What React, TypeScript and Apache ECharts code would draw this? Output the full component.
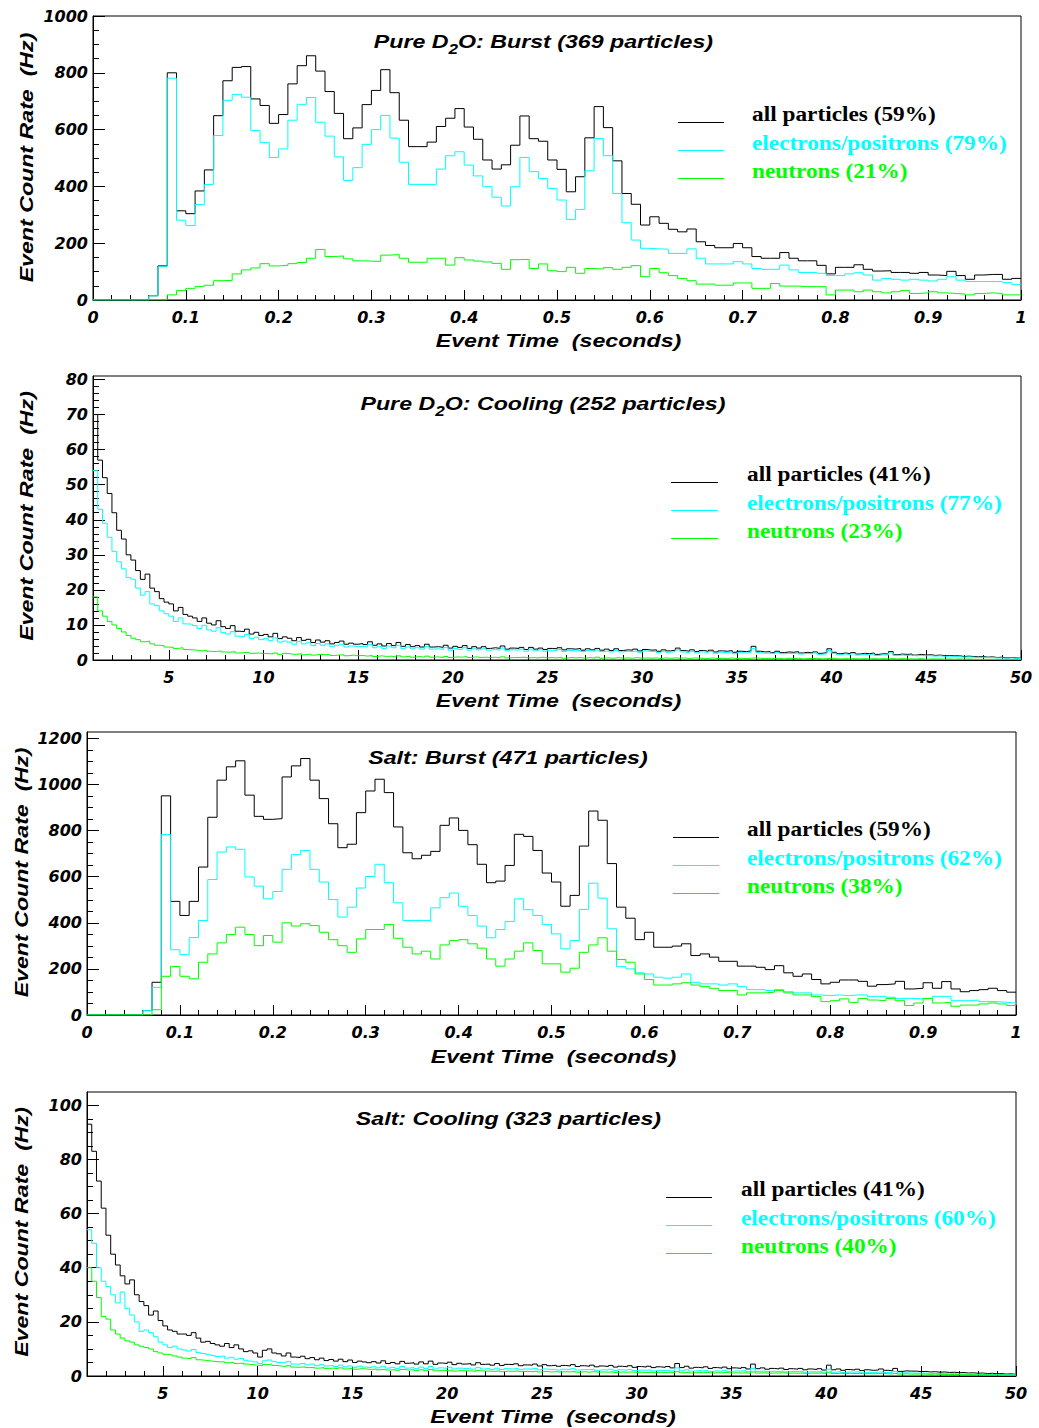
import React, { useEffect, useRef } from "react";
import * as echarts from "echarts";

// ---- binning -------------------------------------------------------------
const BURST_T0 = 0;
const BURST_DT = 0.01; // 10 ms bins
const COOL_T0 = 1;
const COOL_DT = 0.25; // 250 ms bins

// ---- Pure D2O, burst phase (Hz) -----------------------------------------
const d2oBurstAll = [
  0, 0, 0, 0, 0, 0, 15, 120, 800, 314,
  304, 384, 458, 649, 772, 819, 822, 708, 685, 622,
  653, 761, 825, 860, 806, 734, 657, 568, 606, 688,
  738, 811, 730, 633, 540, 540, 556, 611, 640, 674,
  609, 566, 493, 461, 476, 545, 648, 568, 559, 493,
  460, 381, 434, 571, 681, 607, 490, 375, 337, 264,
  293, 270, 249, 240, 250, 205, 192, 184, 184, 199,
  184, 153, 147, 147, 167, 147, 138, 138, 122, 92,
  115, 115, 124, 108, 102, 103, 97, 97, 94, 97,
  88, 86, 101, 86, 73, 88, 90, 90, 73, 76,
];
const d2oBurstEp = [
  0, 0, 0, 0, 0, 0, 15, 117, 781, 281,
  262, 336, 407, 579, 703, 724, 714, 597, 555, 502,
  532, 633, 689, 713, 626, 577, 504, 421, 466, 548,
  600, 650, 570, 485, 407, 407, 407, 461, 508, 522,
  475, 437, 399, 362, 331, 399, 502, 452, 428, 393,
  352, 284, 319, 455, 569, 508, 375, 272, 211, 182,
  180, 179, 164, 164, 180, 147, 127, 127, 127, 135,
  127, 111, 108, 108, 123, 106, 97, 97, 94, 86,
  86, 92, 96, 88, 70, 76, 73, 70, 73, 70,
  67, 73, 82, 70, 65, 65, 65, 65, 61, 55,
];
const d2oBurstN = [
  0, 0, 0, 0, 0, 0, 0, 0, 18, 33,
  41, 48, 52, 68, 69, 92, 106, 113, 128, 120,
  122, 128, 132, 147, 178, 153, 155, 145, 138, 137,
  136, 158, 160, 147, 133, 133, 147, 147, 123, 149,
  141, 137, 134, 129, 108, 142, 143, 111, 127, 103,
  100, 115, 94, 111, 109, 114, 108, 115, 121, 82,
  111, 96, 86, 76, 68, 56, 56, 52, 52, 60,
  60, 41, 41, 58, 49, 49, 47, 47, 47, 18,
  35, 35, 29, 35, 29, 25, 29, 33, 23, 25,
  29, 25, 23, 21, 18, 23, 25, 23, 18, 18,
];

// ---- Pure D2O, cooling phase (Hz), rows of 5 s --------------------------
const d2oCoolAll = [
  70, 57, 52, 47.5, 42, 37, 34.5, 30, 28.5, 25.5, 23, 24.5, 20.5, 19.5, 17.5, 16.5, 16, 14, 15, 13,
  12.5, 12, 11, 12, 10.5, 10, 11.2, 9.5, 9, 9.8, 8.2, 8.1, 8.8, 7.4, 7.9, 7, 7.3, 6.6, 7.6, 6.1,
  6.6, 6.2, 5.5, 6.4, 5.6, 5.9, 5.0, 5.7, 5.1, 5.5, 4.6, 5.0, 5.4, 4.5, 4.8, 4.5, 4.7, 4.4, 5.2, 4.2,
  4.6, 4.0, 4.7, 4.1, 5.0, 3.9, 4.4, 3.8, 4.1, 3.7, 4.5, 3.7, 3.8, 3.6, 4.2, 3.4, 3.9, 3.6, 4.1, 3.3,
  3.8, 3.4, 3.8, 3.3, 3.5, 3.3, 4.0, 3.1, 3.4, 3.3, 3.6, 3.0, 3.6, 3.1, 3.4, 3.0, 3.3, 3.2, 3.5, 2.9,
  3.2, 3.1, 3.3, 2.8, 3.2, 2.9, 3.3, 2.8, 3.1, 2.7, 3.2, 2.7, 2.9, 2.8, 3.1, 2.6, 3.0, 2.8, 2.9, 2.5,
  2.9, 2.6, 2.8, 3.4, 2.7, 2.5, 2.9, 2.4, 2.7, 2.5, 2.8, 2.3, 2.6, 2.5, 2.7, 2.2, 2.5, 2.4, 2.6, 3.9,
  2.5, 2.3, 2.4, 2.1, 2.5, 2.1, 2.3, 2.2, 2.4, 2.0, 2.2, 2.0, 2.3, 1.9, 2.1, 3.2, 2.2, 1.8, 2.0, 1.8,
  2.1, 1.7, 1.9, 1.8, 2.0, 1.6, 1.8, 1.7, 2.4, 1.5, 1.7, 1.6, 1.7, 1.4, 1.6, 1.4, 1.5, 1.3, 1.4, 1.2,
  1.3, 1.2, 1.2, 1.0, 1.1, 1.0, 0.9, 1.0, 0.8, 0.9, 0.7, 0.8, 0.6, 0.7, 0.6, 0.5,
];
const d2oCoolEp = [
  54, 43, 39, 35, 31, 28, 26, 23.5, 23, 20.5, 18.5, 19.5, 16, 15.5, 14, 13.2, 12.5, 11, 12, 10.3,
  10.2, 9.8, 9, 9.9, 8.6, 8.2, 9.2, 7.8, 7.4, 8.1, 6.8, 6.6, 7.3, 6.1, 6.5, 5.8, 6.1, 5.5, 6.3, 5.1,
  5.4, 5.1, 4.5, 5.3, 4.6, 4.9, 4.1, 4.7, 4.2, 4.6, 3.8, 4.2, 4.5, 3.7, 4.0, 3.8, 3.9, 3.7, 4.4, 3.5,
  3.9, 3.3, 4.0, 3.5, 4.2, 3.3, 3.7, 3.2, 3.5, 3.1, 3.8, 3.1, 3.2, 3.0, 3.6, 2.8, 3.3, 3.0, 3.5, 2.8,
  3.2, 2.9, 3.2, 2.8, 3.0, 2.8, 3.4, 2.6, 2.9, 2.8, 3.1, 2.5, 3.1, 2.6, 2.9, 2.5, 2.8, 2.7, 3.0, 2.4,
  2.7, 2.6, 2.8, 2.4, 2.7, 2.5, 2.8, 2.4, 2.6, 2.3, 2.7, 2.3, 2.5, 2.4, 2.6, 2.2, 2.6, 2.4, 2.5, 2.1,
  2.5, 2.2, 2.4, 2.9, 2.3, 2.1, 2.5, 2.0, 2.3, 2.1, 2.4, 1.9, 2.2, 2.1, 2.3, 1.8, 2.1, 2.0, 2.2, 3.3,
  2.1, 1.9, 2.0, 1.8, 2.1, 1.8, 1.9, 1.8, 2.0, 1.7, 1.9, 1.7, 2.0, 1.6, 1.8, 2.7, 1.9, 1.5, 1.7, 1.5,
  1.8, 1.4, 1.6, 1.5, 1.7, 1.3, 1.5, 1.4, 2.0, 1.3, 1.4, 1.3, 1.4, 1.2, 1.3, 1.2, 1.2, 1.1, 1.2, 1.0,
  1.1, 1.0, 1.0, 0.8, 0.9, 0.8, 0.7, 0.8, 0.7, 0.7, 0.6, 0.6, 0.5, 0.6, 0.5, 0.4,
];
const d2oCoolN = [
  18, 14, 12.5, 11, 10, 9, 8, 7, 6.2, 5.8, 5.2, 5.4, 4.6, 4.2, 4.1, 3.7, 3.6, 3.3, 3.5, 3.0,
  2.9, 2.8, 2.6, 2.8, 2.5, 2.4, 2.6, 2.3, 2.2, 2.4, 2.0, 2.1, 2.2, 1.9, 2.0, 1.8, 1.9, 1.7, 2.0, 1.6,
  1.9, 1.7, 1.6, 1.8, 1.5, 1.7, 1.4, 1.6, 1.5, 1.6, 1.3, 1.4, 1.5, 1.2, 1.4, 1.2, 1.3, 1.1, 1.3, 1.0,
  1.2, 1.0, 1.1, 0.9, 1.2, 0.9, 1.1, 0.8, 1.0, 0.8, 1.1, 0.8, 0.9, 0.7, 1.0, 0.7, 0.9, 0.8, 1.0, 0.7,
  0.9, 0.7, 0.8, 0.7, 0.8, 0.6, 0.9, 0.6, 0.7, 0.7, 0.8, 0.6, 0.7, 0.6, 0.8, 0.6, 0.7, 0.6, 0.8, 0.5,
  0.7, 0.6, 0.7, 0.5, 0.7, 0.5, 0.8, 0.5, 0.6, 0.5, 0.7, 0.5, 0.6, 0.5, 0.7, 0.5, 0.6, 0.5, 0.6, 0.4,
  0.6, 0.5, 0.6, 0.5, 0.6, 0.4, 0.6, 0.5, 0.5, 0.4, 0.6, 0.4, 0.5, 0.4, 0.6, 0.4, 0.5, 0.4, 0.5, 0.6,
  0.5, 0.4, 0.5, 0.4, 0.5, 0.3, 0.5, 0.4, 0.5, 0.3, 0.4, 0.4, 0.5, 0.3, 0.4, 0.5, 0.4, 0.3, 0.4, 0.3,
  0.4, 0.3, 0.4, 0.3, 0.4, 0.3, 0.4, 0.3, 0.4, 0.3, 0.4, 0.3, 0.3, 0.3, 0.4, 0.2, 0.3, 0.3, 0.3, 0.2,
  0.3, 0.2, 0.3, 0.2, 0.3, 0.2, 0.2, 0.2, 0.2, 0.2, 0.2, 0.1, 0.2, 0.1, 0.2, 0.1,
];

// ---- Salt, burst phase (Hz) ---------------------------------------------
const saltBurstAll = [
  0, 0, 0, 0, 0, 0, 19, 142, 951, 493,
  432, 493, 642, 858, 1019, 1077, 1103, 954, 862, 849,
  852, 1033, 1081, 1113, 1019, 939, 830, 726, 741, 878,
  972, 1023, 965, 816, 704, 678, 693, 710, 823, 855,
  801, 739, 654, 574, 581, 649, 784, 775, 714, 616,
  577, 472, 519, 733, 885, 845, 657, 468, 420, 327,
  359, 294, 294, 299, 309, 258, 265, 251, 233, 233,
  212, 212, 207, 197, 214, 183, 168, 178, 154, 135,
  142, 152, 152, 146, 125, 132, 135, 146, 113, 116,
  140, 116, 145, 113, 101, 106, 110, 116, 106, 99,
];
const saltBurstEp = [
  0, 0, 0, 0, 0, 0, 19, 120, 783, 283,
  262, 336, 410, 588, 707, 729, 719, 599, 559, 504,
  536, 632, 696, 714, 632, 577, 501, 425, 468, 551,
  601, 654, 574, 487, 410, 410, 410, 465, 509, 529,
  472, 432, 386, 335, 371, 406, 504, 457, 432, 393,
  352, 287, 323, 458, 572, 507, 374, 210, 200, 183,
  178, 164, 160, 164, 178, 142, 135, 135, 130, 135,
  123, 110, 110, 106, 110, 101, 96, 96, 87, 84,
  87, 84, 87, 87, 81, 81, 77, 72, 72, 70,
  72, 81, 81, 62, 62, 65, 58, 58, 55, 52,
];
const saltBurstN = [
  0, 0, 0, 0, 0, 0, 0, 23, 168, 210,
  168, 157, 229, 265, 313, 349, 381, 349, 301, 345,
  316, 400, 386, 396, 388, 359, 327, 301, 272, 330,
  371, 371, 393, 333, 294, 265, 277, 243, 304, 323,
  327, 309, 290, 243, 212, 243, 277, 313, 280, 222,
  222, 186, 203, 272, 304, 335, 277, 241, 229, 178,
  154, 130, 130, 135, 140, 130, 123, 116, 106, 106,
  87, 96, 96, 99, 106, 96, 87, 87, 80, 58,
  62, 70, 55, 72, 65, 62, 72, 62, 41, 52,
  72, 52, 55, 38, 43, 43, 48, 52, 48, 41,
];

// ---- Salt, cooling phase (Hz), rows of 5 s ------------------------------
const saltCoolAll = [
  93, 83, 72, 62, 52, 45, 41, 37, 34, 35.5, 30, 27.5, 26, 22.5, 24, 20.5, 18.5, 17, 16.5, 15.5,
  15.5, 15, 16, 14, 12.5, 12.8, 12, 11.5, 11, 12, 10.5, 11.5, 10, 9, 9.3, 8.5, 7, 9.5, 10, 8.5,
  8.2, 7.4, 8.5, 7, 6.8, 7.3, 6.4, 6.8, 6, 6.6, 5.7, 6.1, 5.5, 6.2, 5.3, 5.9, 5, 5.5, 5.2, 4.9,
  5.3, 4.8, 5.6, 4.6, 5.0, 4.5, 5.4, 4.7, 4.9, 4.4, 5.2, 4.5, 5.5, 4.3, 4.8, 4.6, 5.1, 4.2, 4.7, 4.4,
  4.6, 4.1, 4.9, 4.3, 4.4, 4.0, 4.6, 3.9, 4.3, 4.2, 4.5, 3.8, 4.1, 4.0, 4.4, 3.7, 4.2, 3.8, 4.0, 3.6,
  3.9, 3.7, 4.2, 3.5, 3.8, 3.6, 4.0, 3.4, 3.7, 3.5, 3.9, 3.3, 3.6, 3.4, 3.8, 3.2, 3.5, 3.3, 3.6, 3.1,
  3.4, 3.2, 3.5, 3.0, 4.6, 3.1, 3.6, 2.9, 3.2, 3.0, 3.4, 2.8, 3.1, 2.9, 3.3, 2.7, 3.0, 2.8, 3.1, 2.6,
  4.4, 2.7, 3.0, 2.5, 2.8, 2.6, 2.9, 2.4, 2.7, 2.5, 2.8, 2.3, 2.6, 2.4, 2.7, 2.2, 4.0, 2.3, 2.6, 2.1,
  2.4, 2.2, 2.5, 2.0, 2.3, 2.1, 2.2, 2.6, 2.1, 1.9, 2.8, 1.7, 1.9, 1.8, 1.8, 1.6, 1.7, 1.5, 1.6, 1.4,
  1.5, 1.3, 1.4, 1.2, 1.3, 1.1, 1.2, 1.0, 1.1, 0.9, 1.0, 0.8, 0.9, 0.7, 0.8, 0.6,
];
const saltCoolEp = [
  54, 49, 40, 35, 33, 30, 27, 31, 25, 22.5, 20, 16.5, 17, 16, 14.5, 12.5, 11.5, 10.5, 11, 10,
  9.6, 9.2, 9.8, 8.7, 8.3, 8, 7.6, 7.2, 7.4, 6.6, 6.9, 6.2, 6.5, 5.8, 5.5, 5.2, 4.6, 5.6, 5.9, 5.3,
  5.0, 4.8, 5.3, 4.4, 4.3, 4.6, 4.1, 4.4, 3.8, 4.2, 3.7, 3.9, 3.5, 4.0, 3.4, 3.7, 3.2, 3.6, 3.3, 3.1,
  3.4, 3.0, 3.6, 2.9, 3.2, 2.8, 3.5, 2.9, 3.1, 2.7, 3.3, 2.8, 3.5, 2.6, 3.0, 2.8, 3.2, 2.6, 2.9, 2.7,
  2.9, 2.5, 3.1, 2.6, 2.8, 2.4, 2.9, 2.4, 2.7, 2.6, 2.8, 2.3, 2.6, 2.5, 2.8, 2.3, 2.6, 2.4, 2.5, 2.2,
  2.5, 2.3, 2.7, 2.2, 2.4, 2.3, 2.5, 2.1, 2.3, 2.2, 2.5, 2.0, 2.3, 2.1, 2.4, 2.0, 2.2, 2.1, 2.3, 1.9,
  2.1, 2.0, 2.2, 1.9, 3.0, 1.9, 2.3, 1.8, 2.0, 1.9, 2.1, 1.7, 1.9, 1.8, 2.1, 1.7, 1.9, 1.8, 2.0, 1.6,
  2.8, 1.7, 1.9, 1.6, 1.8, 1.6, 1.8, 1.5, 1.7, 1.6, 1.8, 1.4, 1.6, 1.5, 1.7, 1.4, 2.5, 1.4, 1.6, 1.3,
  1.5, 1.4, 1.6, 1.2, 1.4, 1.3, 1.4, 1.6, 1.3, 1.2, 1.7, 1.1, 1.2, 1.1, 1.1, 1.0, 1.1, 0.9, 1.0, 0.9,
  0.9, 0.8, 0.9, 0.7, 0.8, 0.7, 0.7, 0.6, 0.7, 0.6, 0.6, 0.5, 0.5, 0.4, 0.5, 0.4,
];
const saltCoolN = [
  40, 35, 29, 22, 21, 17, 15.5, 14, 13, 12.5, 11.5, 11, 10.5, 10, 9, 8.5, 8, 7.8, 7.4, 7,
  6.6, 6.4, 6.8, 6.0, 5.8, 5.6, 5.4, 5.2, 5.3, 4.9, 5.0, 4.6, 4.8, 4.4, 4.2, 4.0, 3.8, 4.2, 4.4, 3.9,
  3.7, 3.5, 3.8, 3.3, 3.2, 3.4, 3.1, 3.2, 2.9, 3.1, 2.8, 2.9, 2.7, 3.0, 2.6, 2.8, 2.5, 2.7, 2.6, 2.4,
  2.6, 2.3, 2.5, 2.2, 2.4, 2.1, 2.4, 2.2, 2.3, 2.0, 2.3, 2.0, 2.4, 1.9, 2.1, 2.0, 2.2, 1.8, 2.0, 1.9,
  1.9, 1.7, 2.0, 1.8, 1.8, 1.7, 1.9, 1.6, 1.8, 1.7, 1.9, 1.6, 1.7, 1.6, 1.8, 1.5, 1.7, 1.5, 1.6, 1.5,
  1.6, 1.5, 1.7, 1.4, 1.6, 1.4, 1.6, 1.4, 1.5, 1.4, 1.6, 1.3, 1.5, 1.4, 1.5, 1.3, 1.4, 1.3, 1.4, 1.2,
  1.4, 1.3, 1.4, 1.2, 1.6, 1.2, 1.4, 1.1, 1.3, 1.2, 1.3, 1.1, 1.2, 1.2, 1.3, 1.1, 1.2, 1.1, 1.2, 1.0,
  1.5, 1.1, 1.2, 1.0, 1.1, 1.1, 1.2, 1.0, 1.1, 1.0, 1.1, 0.9, 1.1, 1.0, 1.1, 0.9, 1.4, 0.9, 1.0, 0.9,
  1.0, 0.9, 1.0, 0.8, 0.9, 0.8, 0.9, 1.0, 0.8, 0.8, 1.0, 0.7, 0.8, 0.7, 0.7, 0.7, 0.7, 0.6, 0.7, 0.6,
  0.6, 0.5, 0.6, 0.5, 0.5, 0.5, 0.5, 0.4, 0.5, 0.4, 0.4, 0.4, 0.4, 0.3, 0.3, 0.3,
];

// ---- axis tick labels ----------------------------------------------------
const burstXTicks = [0, 0.1, 0.2, 0.3, 0.4, 0.5, 0.6, 0.7, 0.8, 0.9, 1];
const coolXTicks = [5, 10, 15, 20, 25, 30, 35, 40, 45, 50];
const d2oBurstYTicks = [0, 200, 400, 600, 800, 1000];
const d2oCoolYTicks = [0, 10, 20, 30, 40, 50, 60, 70, 80];
const saltBurstYTicks = [0, 200, 400, 600, 800, 1000, 1200];
const saltCoolYTicks = [0, 20, 40, 60, 80, 100];

// ---- legend text ---------------------------------------------------------
const legendLabels = ["all particles", "electrons/positrons", "neutrons"];
const d2oBurstShares = ["59%", "79%", "21%"];
const d2oCoolShares = ["41%", "77%", "23%"];
const saltBurstShares = ["59%", "62%", "38%"];
const saltCoolShares = ["41%", "60%", "40%"];

const COLORS = ["#000000", "#00ffff", "#00ff00"];
const SANS = "'Liberation Sans', Arial, Helvetica, sans-serif";
const SERIF = "'Liberation Serif', 'Times New Roman', serif";
const TICK_FONT = "'DejaVu Sans', sans-serif";

const X_NAME = "Event Time  (seconds)";
const Y_NAME = "Event Count Rate  (Hz)";

type Panel = {
  title: [string, boolean][];
  grid: { left: number; top: number; width: number; height: number };
  xMin: number; xMax: number; xTicks: number[]; xMinorStep: number;
  yMax: number; yTicks: number[]; yMinorStep: number;
  series: number[][]; t0: number; dt: number; shares: string[];
  titlePos: [number, number];
  legend: { x1: number; x2: number; tx: number; y: number };
  yNamePos: [number, number];
  xNamePos: [number, number];
};

const panels: Panel[] = [
  {
    title: [["Pure D", false], ["2", true], ["O: Burst (369 particles)", false]],
    grid: { left: 93, top: 16, width: 928, height: 284 },
    xMin: 0, xMax: 1, xTicks: burstXTicks, xMinorStep: 0.02,
    yMax: 1000, yTicks: d2oBurstYTicks, yMinorStep: 50,
    series: [d2oBurstAll, d2oBurstEp, d2oBurstN], t0: BURST_T0, dt: BURST_DT,
    shares: d2oBurstShares,
    titlePos: [543.5, 41.5],
    legend: { x1: 678, x2: 724, tx: 752, y: 121.5 },
    yNamePos: [26.5, 157.5],
    xNamePos: [558.5, 340],
  },
  {
    title: [["Pure D", false], ["2", true], ["O: Cooling (252 particles)", false]],
    grid: { left: 93, top: 376, width: 928, height: 284 },
    xMin: 1, xMax: 50, xTicks: coolXTicks, xMinorStep: 1,
    yMax: 81, yTicks: d2oCoolYTicks, yMinorStep: 2,
    series: [d2oCoolAll, d2oCoolEp, d2oCoolN], t0: COOL_T0, dt: COOL_DT,
    shares: d2oCoolShares,
    titlePos: [543, 403],
    legend: { x1: 671, x2: 718, tx: 747, y: 481.5 },
    yNamePos: [26.5, 516],
    xNamePos: [558.5, 700],
  },
  {
    title: [["Salt: Burst (471 particles)", false]],
    grid: { left: 87, top: 732, width: 929, height: 283 },
    xMin: 0, xMax: 1, xTicks: burstXTicks, xMinorStep: 0.02,
    yMax: 1228, yTicks: saltBurstYTicks, yMinorStep: 50,
    series: [saltBurstAll, saltBurstEp, saltBurstN], t0: BURST_T0, dt: BURST_DT,
    shares: saltBurstShares,
    titlePos: [508, 757],
    legend: { x1: 673, x2: 719, tx: 747, y: 836.5 },
    yNamePos: [21.5, 872.5],
    xNamePos: [553.5, 1056],
  },
  {
    title: [["Salt: Cooling (323 particles)", false]],
    grid: { left: 87, top: 1092, width: 929, height: 284 },
    xMin: 1, xMax: 50, xTicks: coolXTicks, xMinorStep: 1,
    yMax: 104.9, yTicks: saltCoolYTicks, yMinorStep: 5,
    series: [saltCoolAll, saltCoolEp, saltCoolN], t0: COOL_T0, dt: COOL_DT,
    shares: saltCoolShares,
    titlePos: [508.5, 1118],
    legend: { x1: 666, x2: 712, tx: 741, y: 1196.5 },
    yNamePos: [21.5, 1232],
    xNamePos: [553, 1416],
  },
];

// Histogram outline: one point per left bin edge plus the closing right edge.
function stepPoints(values: number[], t0: number, dt: number) {
  const pts: [number, number][] = values.map((v, i) => [+(t0 + i * dt).toFixed(6), v]);
  pts.push([+(t0 + values.length * dt).toFixed(6), values[values.length - 1]]);
  return pts;
}

function gridSteps(min: number, max: number, step: number) {
  const out: number[] = [];
  const n = Math.floor((max - min) / step + 1e-9);
  for (let i = 0; i <= n; i++) out.push(+(min + i * step).toFixed(6));
  return out;
}

let measureCtx: CanvasRenderingContext2D | null = null;
function measure(text: string, size: number) {
  if (!measureCtx) measureCtx = document.createElement("canvas").getContext("2d");
  if (!measureCtx) return text.length * size * 0.6;
  measureCtx.font = `italic bold ${size}px ${SANS}`;
  return measureCtx.measureText(text).width;
}

const TITLE_SIZE = 19;
const SUB_SIZE = 14;
const SANS_STRETCH = 1.22;

function titleGroup(parts: [string, boolean][], cx: number, cy: number) {
  const widths = parts.map(([t, sub]) => measure(t, sub ? SUB_SIZE : TITLE_SIZE));
  const total = widths.reduce((a, b) => a + b, 0);
  let x = -total / 2;
  const children = parts.map(([t, sub], i) => {
    const el = {
      type: "text",
      x,
      y: sub ? 8 : 0,
      style: {
        text: t,
        fill: "#000",
        fontFamily: SANS,
        fontSize: sub ? SUB_SIZE : TITLE_SIZE,
        fontWeight: "bold",
        fontStyle: "italic",
        textAlign: "left",
        textVerticalAlign: "middle",
      },
    };
    x += widths[i];
    return el;
  });
  return { type: "group", x: cx, y: cy, scaleX: SANS_STRETCH, children };
}

function sansText(text: string, x: number, y: number, rotation = 0) {
  return {
    type: "text",
    x,
    y,
    rotation,
    scaleX: SANS_STRETCH,
    style: {
      text,
      fill: "#000",
      fontFamily: SANS,
      fontSize: TITLE_SIZE,
      fontWeight: "bold",
      fontStyle: "italic",
      textAlign: "center",
      textVerticalAlign: "middle",
    },
  };
}

function legendGraphics(p: Panel) {
  const out: any[] = [];
  legendLabels.forEach((lab, k) => {
    const y = p.legend.y + k * 28.3;
    const ly = Math.round(y) + 0.5;
    out.push({
      type: "line",
      shape: { x1: p.legend.x1, y1: ly, x2: p.legend.x2, y2: ly },
      style: { stroke: COLORS[k], lineWidth: 1 },
    });
    out.push({
      type: "text",
      x: p.legend.tx,
      y: y - 7.5,
      scaleX: 1.06,
      style: {
        text: `${lab} (${p.shares[k]})`,
        fill: COLORS[k],
        fontFamily: SERIF,
        fontSize: 22,
        fontWeight: "bold",
        textAlign: "left",
        textVerticalAlign: "middle",
      },
    });
  });
  return out;
}

const tickLabelStyle = {
  color: "#000",
  fontFamily: TICK_FONT,
  fontStyle: "italic",
  fontWeight: "bold",
  fontSize: 16,
  formatter: (v: number) => String(v),
};

function buildOption() {
  const grid: any[] = [];
  const xAxis: any[] = [];
  const yAxis: any[] = [];
  const series: any[] = [];
  const graphic: any[] = [];

  panels.forEach((p, i) => {
    grid.push({
      ...p.grid,
      show: true,
      borderColor: "#000",
      borderWidth: 1,
      backgroundColor: "transparent",
      containLabel: false,
      outerBoundsMode: "none",
    });

    const xMinor = gridSteps(p.xMin, p.xMax, p.xMinorStep);
    const yMinor = gridSteps(0, p.yMax, p.yMinorStep);

    xAxis.push({
      gridIndex: i,
      type: "value",
      position: "bottom",
      min: p.xMin,
      max: p.xMax,
      axisLine: { show: true, onZero: false, lineStyle: { color: "#000", width: 1 } },
      axisTick: { show: true, inside: true, length: 10, customValues: p.xTicks, lineStyle: { color: "#000", width: 1 } },
      axisLabel: { show: true, customValues: p.xTicks, margin: 9, showMinLabel: true, showMaxLabel: true, ...tickLabelStyle },
      splitLine: { show: false },
    });
    xAxis.push({
      gridIndex: i,
      type: "value",
      position: "bottom",
      min: p.xMin,
      max: p.xMax,
      axisLine: { show: false, onZero: false },
      axisTick: { show: true, inside: true, length: 5, customValues: xMinor, lineStyle: { color: "#000", width: 1 } },
      axisLabel: { show: false },
      splitLine: { show: false },
    });
    yAxis.push({
      gridIndex: i,
      type: "value",
      position: "left",
      min: 0,
      max: p.yMax,
      axisLine: { show: true, onZero: false, lineStyle: { color: "#000", width: 1 } },
      axisTick: { show: true, inside: true, length: 12, customValues: p.yTicks, lineStyle: { color: "#000", width: 1 } },
      axisLabel: { show: true, customValues: p.yTicks, margin: 5, showMinLabel: true, showMaxLabel: true, ...tickLabelStyle },
      splitLine: { show: false },
    });
    yAxis.push({
      gridIndex: i,
      type: "value",
      position: "left",
      min: 0,
      max: p.yMax,
      axisLine: { show: false, onZero: false },
      axisTick: { show: true, inside: true, length: 6, customValues: yMinor, lineStyle: { color: "#000", width: 1 } },
      axisLabel: { show: false },
      splitLine: { show: false },
    });

    p.series.forEach((vals, k) => {
      series.push({
        type: "line",
        name: `${legendLabels[k]} ${i}`,
        xAxisIndex: 2 * i,
        yAxisIndex: 2 * i,
        data: stepPoints(vals, p.t0, p.dt),
        step: "end",
        symbol: "none",
        showSymbol: false,
        silent: true,
        clip: true,
        z: 2 + k,
        lineStyle: { color: COLORS[k], width: 1 },
      });
    });

    graphic.push(titleGroup(p.title, p.titlePos[0], p.titlePos[1]));
    graphic.push(...legendGraphics(p));
    graphic.push(sansText(X_NAME, p.xNamePos[0], p.xNamePos[1]));
    graphic.push(sansText(Y_NAME, p.yNamePos[0], p.yNamePos[1], Math.PI / 2));
  });

  return {
    animation: false,
    backgroundColor: "#ffffff",
    grid,
    xAxis,
    yAxis,
    series,
    graphic,
  };
}

export default function App() {
  const ref = useRef<HTMLDivElement | null>(null);

  useEffect(() => {
    document.body.style.margin = "0";
    if (!ref.current) return;
    const chart = echarts.init(ref.current, null, { renderer: "svg", width: 1039, height: 1428 });
    chart.setOption(buildOption() as any);
    return () => {
      chart.dispose();
    };
  }, []);

  return <div ref={ref} style={{ width: 1039, height: 1428 }} />;
}
